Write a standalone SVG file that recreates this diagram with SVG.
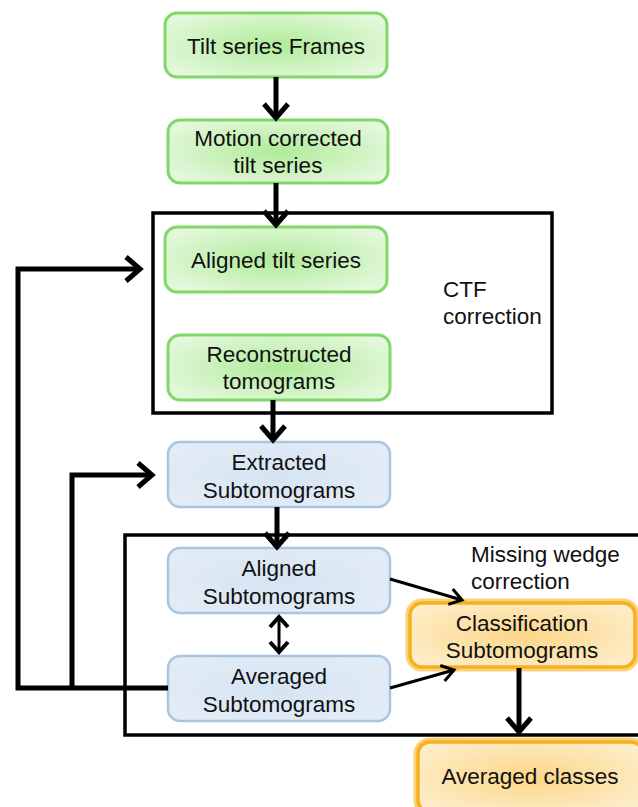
<svg xmlns="http://www.w3.org/2000/svg" width="638" height="807" viewBox="0 0 638 807">
<defs>
<radialGradient id="gGreen" cx="50%" cy="50%" r="60%">
<stop offset="0" stop-color="#b0eb9a"/>
<stop offset="1" stop-color="#e4f8dc"/>
</radialGradient>
<radialGradient id="gBlue" cx="50%" cy="50%" r="60%">
<stop offset="0" stop-color="#d6e4f2"/>
<stop offset="1" stop-color="#e2ecf6"/>
</radialGradient>
<radialGradient id="gOrange" cx="50%" cy="50%" r="60%">
<stop offset="0" stop-color="#fcd688"/>
<stop offset="1" stop-color="#fdedc8"/>
</radialGradient>
<marker id="ah" viewBox="0 0 28 28" markerUnits="userSpaceOnUse" markerWidth="28" markerHeight="28" refX="24" refY="14" orient="auto">
<path d="M10,2 L24,14 L10,26" fill="none" stroke="#000" stroke-width="5" stroke-linejoin="miter"/>
</marker>
<marker id="ahs" viewBox="0 0 24 24" markerUnits="userSpaceOnUse" markerWidth="24" markerHeight="24" refX="21" refY="12" orient="auto">
<path d="M9,4 L21,12 L9,20" fill="none" stroke="#000" stroke-width="3"/>
</marker>
<marker id="ahd" viewBox="0 0 24 24" markerUnits="userSpaceOnUse" markerWidth="24" markerHeight="24" refX="20" refY="12" orient="auto-start-reverse">
<path d="M10,3 L20,12 L10,21" fill="none" stroke="#000" stroke-width="4"/>
</marker>
</defs>
<style>
text{font-family:"Liberation Sans",Arial,sans-serif;font-size:22.5px;fill:#111;text-anchor:middle}
.lbl{text-anchor:start}
.green{fill:url(#gGreen);stroke:#7ed966;stroke-width:3}
.blue{fill:url(#gBlue);stroke:#a9c5e0;stroke-width:2.5}
.glow{fill:none;stroke:#fbd27a;stroke-width:9}
.orange{fill:url(#gOrange);stroke:#f6b121;stroke-width:3.5}
.frame{fill:none;stroke:#000;stroke-width:3.5}
.c{fill:none;stroke:#000;stroke-width:5}
.t{fill:none;stroke:#000;stroke-width:3}
</style>
<rect width="638" height="807" fill="#fff"/>
<g id="ctf-box">
<rect class="frame" x="153" y="213" width="399" height="200"/>
<text class="lbl" x="443" y="297">CTF</text>
<text class="lbl" x="443" y="324">correction</text>
</g>
<g id="mw-box">
<rect class="frame" x="125" y="535" width="520" height="200"/>
<text class="lbl" x="471" y="562">Missing wedge</text>
<text class="lbl" x="471" y="589">correction</text>
</g>
<g id="n1"><rect class="green" x="165" y="13" width="222" height="64" rx="12"/><text x="276" y="54">Tilt series Frames</text></g>
<g id="n2"><rect class="green" x="168" y="120" width="220" height="63" rx="12"/><text x="278" y="146">Motion corrected</text><text x="278" y="173">tilt series</text></g>
<g id="n3"><rect class="green" x="165" y="227" width="222" height="65" rx="12"/><text x="276" y="268">Aligned tilt series</text></g>
<g id="n4"><rect class="green" x="168" y="335" width="222" height="65" rx="12"/><text x="279" y="362">Reconstructed</text><text x="279" y="389">tomograms</text></g>
<g id="n5"><rect class="blue" x="168" y="442" width="222" height="65" rx="12"/><text x="279" y="470">Extracted</text><text x="279" y="498">Subtomograms</text></g>
<g id="n6"><rect class="blue" x="168" y="548" width="222" height="65" rx="12"/><text x="279" y="576">Aligned</text><text x="279" y="604">Subtomograms</text></g>
<g id="n7"><rect class="blue" x="168" y="656" width="222" height="65" rx="12"/><text x="279" y="684">Averaged</text><text x="279" y="712">Subtomograms</text></g>
<g id="n8"><rect class="glow" x="410" y="603" width="225" height="64" rx="12"/><rect class="orange" x="410" y="603" width="225" height="64" rx="12"/><text x="522" y="631">Classification</text><text x="522" y="658">Subtomograms</text></g>
<g id="n9"><rect class="glow" x="418" y="742" width="225" height="70" rx="12"/><rect class="orange" x="418" y="742" width="225" height="70" rx="12"/><text x="530" y="784">Averaged classes</text></g>
<g id="connectors">
<line class="c" x1="276" y1="77" x2="276" y2="118" marker-end="url(#ah)"/>
<line class="c" x1="276" y1="183" x2="276" y2="225" marker-end="url(#ah)"/>
<line class="c" x1="273" y1="400" x2="273" y2="440" marker-end="url(#ah)"/>
<line class="c" x1="277" y1="507" x2="277" y2="547" marker-end="url(#ah)"/>
<line class="t" x1="279" y1="617" x2="279" y2="652" stroke-width="4" marker-start="url(#ahd)" marker-end="url(#ahd)"/>
<line class="t" x1="390" y1="579" x2="462" y2="600" marker-end="url(#ahs)"/>
<line class="t" x1="390" y1="688" x2="454" y2="670" marker-end="url(#ahs)"/>
<line class="c" x1="519" y1="668" x2="519" y2="732" marker-end="url(#ah)"/>
<polyline class="c" points="168,688 18,688 18,269 140,269" marker-end="url(#ah)"/>
<polyline class="c" points="72,688 72,475 152,475" marker-end="url(#ah)"/>
</g>
</svg>
